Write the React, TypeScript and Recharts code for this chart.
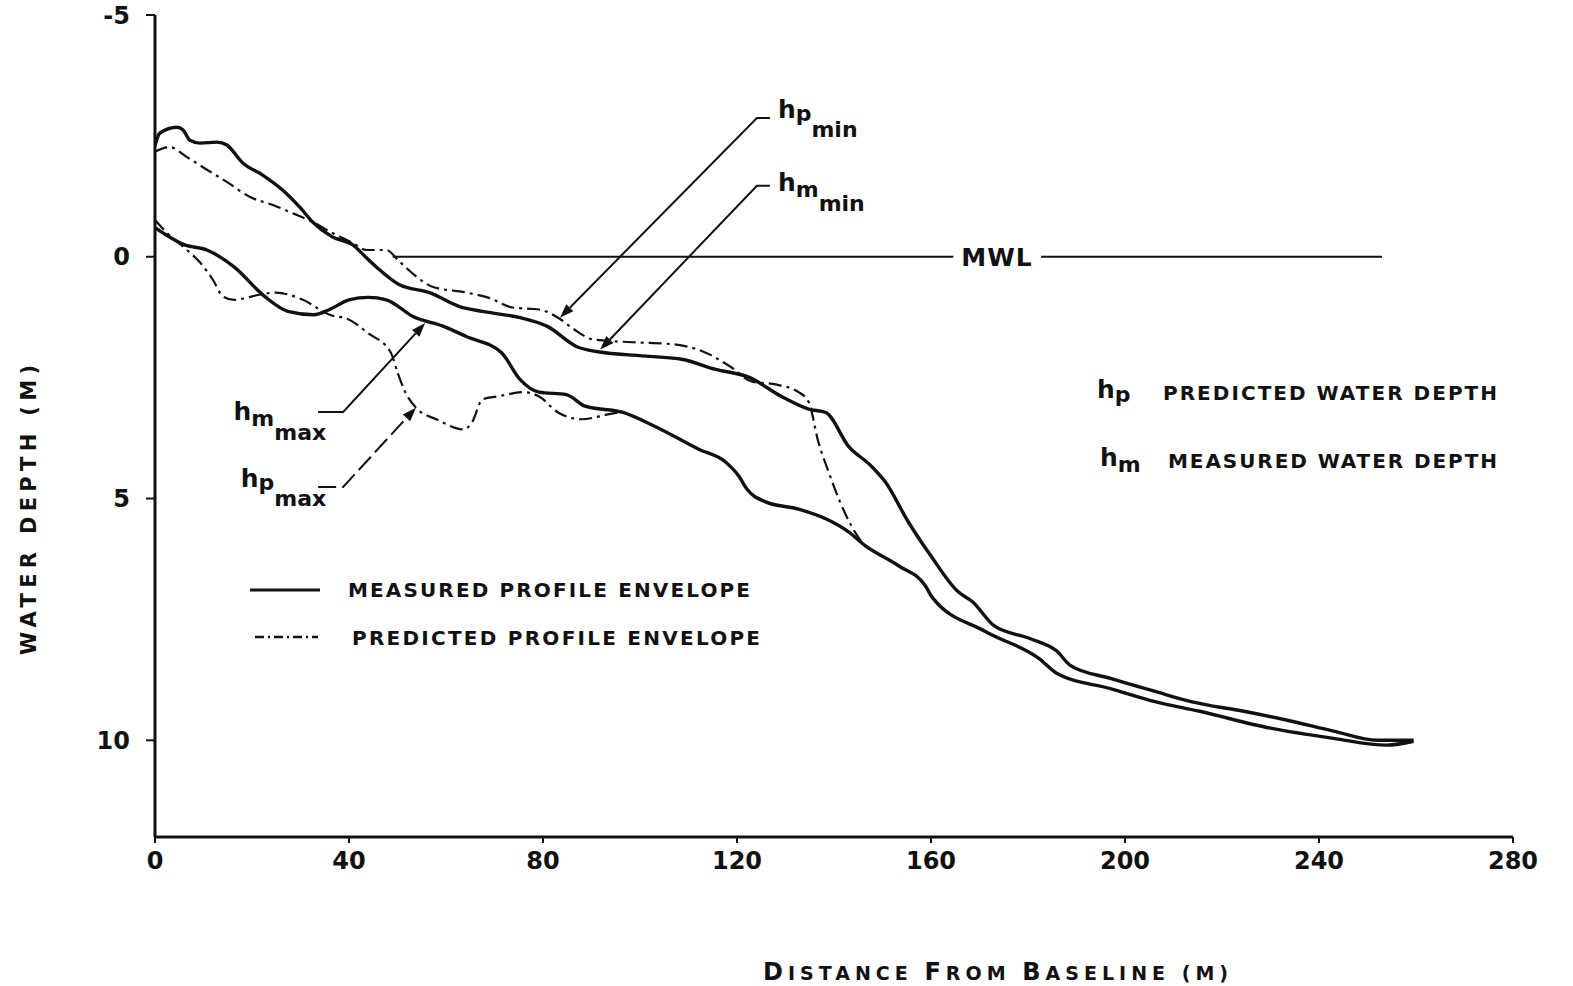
import React from 'react';
import { LineChart, Line, XAxis, YAxis, ReferenceLine, ReferenceDot } from 'recharts';

const W = 1573;
const H = 986;
const FONT = '"DejaVu Sans", Verdana, sans-serif';
const INK = '#111';

type Pt = { x: number; y: number };
const pts = (a: number[][]): Pt[] => a.map(([x, y]) => ({ x, y }));

const X_TICKS = [0, 40, 80, 120, 160, 200, 240, 280];
const Y_TICKS = [-5, 0, 5, 10];

// measured envelope, shallow side (hm min)
const hmMin = pts([
  [0, -2.3], [1, -2.56], [4.5, -2.68], [5.8, -2.62], [7.2, -2.41], [9.3, -2.35], [12.8, -2.37],
  [14.8, -2.31], [18.1, -1.94], [22.2, -1.69], [26.3, -1.38], [29.8, -1.03], [32.5, -0.72],
  [36.6, -0.41], [40.7, -0.25], [43.6, 0.02], [46.3, 0.27], [50.4, 0.58], [56.6, 0.74],
  [62.8, 1.03], [67.5, 1.13], [75.3, 1.26], [80.9, 1.44], [87, 1.86], [91, 1.96], [101.9, 2.06],
  [108.6, 2.12], [115.6, 2.33], [122.4, 2.49], [129.2, 2.89], [134.8, 3.15], [138.3, 3.22],
  [143, 3.92], [147.7, 4.33], [150.6, 4.66], [155.3, 5.48], [160, 6.19], [165.6, 6.93],
  [168.5, 7.13], [173, 7.63], [180.5, 7.9], [186, 8.16], [188.7, 8.45], [197, 8.72],
  [206.2, 8.99], [213.6, 9.2], [224.5, 9.4], [233.7, 9.59], [243, 9.81], [252, 10.0], [259.5, 10.0],
]);

// measured envelope, deep side (hm max)
const hmMax = pts([
  [0, -0.6], [6, -0.25], [10.7, -0.14], [16.3, 0.21], [22.6, 0.82], [27.4, 1.13], [32.7, 1.2],
  [36, 1.09], [40, 0.89], [44, 0.84], [47.7, 0.89], [53.3, 1.24], [59.5, 1.44], [64.2, 1.65], [71.4, 1.98],
  [75.3, 2.54], [79.2, 2.8], [84.8, 2.85], [88.7, 3.09], [96.5, 3.22], [102.9, 3.5], [112.1, 3.98],
  [117.7, 4.25], [120.4, 4.54], [122, 4.8], [125.9, 5.07], [132.7, 5.22], [138.3, 5.42],
  [143, 5.69], [146.5, 5.98], [153.3, 6.39], [158.8, 6.8], [160.3, 7.05], [171.2, 7.75],
  [182.3, 8.31], [186, 8.62], [197, 8.93], [206.2, 9.2], [215.4, 9.4], [230, 9.75],
  [243, 9.96], [254, 10.1], [259.5, 10.02],
]);

// predicted envelope, shallow side (hp min)
const hpMin = pts([
  [0, -2.17], [3, -2.27], [6.6, -2.06], [10.7, -1.8], [14.8, -1.55], [19.5, -1.24], [24.3, -1.07],
  [28.4, -0.9], [32.5, -0.72], [36.6, -0.49], [40.7, -0.29], [43.6, -0.14], [47.7, -0.14],
  [50.4, 0.1], [53.9, 0.41], [57.2, 0.62], [64.2, 0.74], [68.9, 0.85], [73.7, 1.05], [79.2, 1.09],
  [83.1, 1.26], [86.4, 1.5], [90.3, 1.71], [99, 1.77], [106.8, 1.81], [112, 1.92], [118.9, 2.29],
  [123, 2.58], [128, 2.64], [132.7, 2.8], [134.8, 3.01], [136.8, 3.84], [138.9, 4.45], [141, 5.01],
  [143.6, 5.57], [145.7, 5.9],
]);

// predicted envelope, deep side (hp max)
const hpMax = pts([
  [0, -0.76], [2.5, -0.49], [6.6, -0.14], [9.3, 0.12], [11.9, 0.47], [14, 0.82], [16.3, 0.89],
  [21.8, 0.78], [24.9, 0.74], [30.5, 0.89], [36, 1.2], [40, 1.3], [43.8, 1.57], [48.6, 1.98],
  [50, 2.39], [51.6, 2.8], [54.1, 3.15], [58, 3.36], [63.6, 3.57], [65.4, 3.42], [67.5, 2.95],
  [70.6, 2.89], [76.1, 2.8], [79.2, 2.89], [83.1, 3.22], [87.9, 3.36], [93.4, 3.26], [96.5, 3.2],
]);

// mean water level, broken where the MWL text sits
const MWL_LEFT: Pt[] = [{ x: 49, y: 0 }, { x: 164.6, y: 0 }];
const MWL_RIGHT: Pt[] = [{ x: 182.7, y: 0 }, { x: 253, y: 0 }];

type Note = {
  main: string;
  sub: string;
  subsub: string;
  elbow: Pt;
  tip: Pt;
  side: 'left' | 'right';
  dashed?: boolean;
  dy: number;
};

const NOTES: Note[] = [
  { main: 'h', sub: 'p', subsub: 'min', elbow: { x: 124.1, y: -2.87 }, tip: { x: 83.5, y: 1.26 }, side: 'right', dy: 0 },
  { main: 'h', sub: 'm', subsub: 'min', elbow: { x: 124.1, y: -1.47 }, tip: { x: 91.8, y: 1.92 }, side: 'right', dy: 5 },
  { main: 'h', sub: 'm', subsub: 'max', elbow: { x: 38.8, y: 3.21 }, tip: { x: 55.7, y: 1.37 }, side: 'left', dy: 8 },
  { main: 'h', sub: 'p', subsub: 'max', elbow: { x: 38.8, y: 4.76 }, tip: { x: 53.8, y: 3.12 }, side: 'left', dy: 0, dashed: true },
];

const DASH_DOT = '13 5 3 5';

function leader(n: Note) {
  return (p: any) => {
    const ex = p.x1, ey = p.y1, tx = p.x2, ty = p.y2;
    const ang = Math.atan2(ty - ey, tx - ex);
    const len = 14, half = 5;
    const bx = tx - len * Math.cos(ang), by = ty - len * Math.sin(ang);
    const nx = -Math.sin(ang) * half, ny = Math.cos(ang) * half;
    const stub = n.side === 'right' ? 13 : -25;
    const sx = ex + stub;
    return (
      <g>
        <path
          d={`M${sx},${ey} L${ex},${ey} L${bx},${by}`}
          fill="none"
          stroke={INK}
          strokeWidth={2}
          strokeDasharray={n.dashed ? '18 6' : undefined}
        />
        <polygon points={`${tx},${ty} ${bx + nx},${by + ny} ${bx - nx},${by - ny}`} fill={INK} />
        <text
          x={sx + 8}
          y={ey + n.dy}
          textAnchor={n.side === 'right' ? 'start' : 'end'}
          fontFamily={FONT}
          fontWeight={700}
          fill={INK}
        >
          <tspan fontSize={25}>{n.main}</tspan>
          <tspan fontSize={22} dy={n.sub === 'm' ? 6 : 3}>{n.sub}</tspan>
          <tspan fontSize={22} dy={n.sub === 'm' ? 14 : 16}>{n.subsub}</tspan>
        </text>
      </g>
    );
  };
}

const mwlShape = (p: any) => (
  <text x={p.cx} y={p.cy + 9} textAnchor="middle" fontFamily={FONT} fontWeight={700} fontSize={25} fill={INK} letterSpacing={1}>
    MWL
  </text>
);

const xTitle = () => (
  <text x={763} y={980} fontFamily={FONT} fontWeight={700} fill={INK} textLength={465} lengthAdjust="spacing">
    <tspan fontSize={24}>D</tspan><tspan fontSize={19}>ISTANCE </tspan>
    <tspan fontSize={24}>F</tspan><tspan fontSize={19}>ROM </tspan>
    <tspan fontSize={24}>B</tspan><tspan fontSize={19}>ASELINE (M)</tspan>
  </text>
);

const yTitle = () => (
  <text
    x={0}
    y={0}
    transform="translate(36,510) rotate(-90)"
    textAnchor="middle"
    fontFamily={FONT}
    fontWeight={700}
    fontSize={21}
    fill={INK}
    textLength={290}
    lengthAdjust="spacing"
  >
    WATER  DEPTH  (M)
  </text>
);

const tickFont = { fill: INK, fontSize: 24, fontWeight: 700, fontFamily: FONT };
const capStyle = { fontFamily: FONT, fontWeight: 700, fill: INK } as const;

function Overlay() {
  return (
    <svg width={W} height={H} style={{ position: 'absolute', left: 0, top: 0, pointerEvents: 'none' }}>
      {/* legend */}
      <line x1={250} y1={590} x2={320} y2={590} stroke={INK} strokeWidth={3} />
      <text x={348} y={597} fontSize={20} textLength={402} lengthAdjust="spacing" {...capStyle}>
        MEASURED PROFILE ENVELOPE
      </text>
      <line x1={255} y1={637} x2={318} y2={637} stroke={INK} strokeWidth={2.5} strokeDasharray="9 4 2 4" />
      <text x={352} y={645} fontSize={20} textLength={408} lengthAdjust="spacing" {...capStyle}>
        PREDICTED PROFILE ENVELOPE
      </text>
      {/* symbol notes */}
      <text x={1097} y={398} {...capStyle}>
        <tspan fontSize={25}>h</tspan><tspan fontSize={22} dy={4}>p</tspan>
      </text>
      <text x={1163} y={400} fontSize={20} textLength={334} lengthAdjust="spacing" {...capStyle}>
        PREDICTED WATER  DEPTH
      </text>
      <text x={1100} y={466} {...capStyle}>
        <tspan fontSize={25}>h</tspan><tspan fontSize={22} dy={6}>m</tspan>
      </text>
      <text x={1168} y={468} fontSize={20} textLength={329} lengthAdjust="spacing" {...capStyle}>
        MEASURED WATER  DEPTH
      </text>
    </svg>
  );
}

export default function App() {
  return (
    <div style={{ position: 'absolute', left: 0, top: 0, width: W, height: H, background: '#fff' }}>
      <LineChart width={W} height={H} margin={{ top: 15, right: 60, bottom: 0, left: 0 }}>
        <XAxis
          type="number"
          dataKey="x"
          domain={[0, 280]}
          ticks={X_TICKS}
          allowDataOverflow
          height={149}
          axisLine={{ stroke: INK, strokeWidth: 3 }}
          tickLine={{ stroke: INK, strokeWidth: 2 }}
          tickSize={6}
          tickMargin={9}
          tick={tickFont}
          label={{ content: xTitle }}
        />
        <YAxis
          type="number"
          dataKey="y"
          domain={[-5, 12]}
          reversed
          ticks={Y_TICKS}
          allowDataOverflow
          width={155}
          axisLine={{ stroke: INK, strokeWidth: 3 }}
          tickLine={{ stroke: INK, strokeWidth: 2 }}
          tickSize={9}
          tickMargin={16}
          tick={tickFont}
          label={{ content: yTitle }}
        />
        <ReferenceLine segment={MWL_LEFT} stroke={INK} strokeWidth={2} />
        <ReferenceLine segment={MWL_RIGHT} stroke={INK} strokeWidth={2} />
        <ReferenceDot x={173.6} y={0} r={0} shape={mwlShape} />

        <Line data={hmMin} dataKey="y" type="monotoneX" stroke={INK} strokeWidth={3.4} dot={false} isAnimationActive={false} />
        <Line data={hmMax} dataKey="y" type="monotoneX" stroke={INK} strokeWidth={3.4} dot={false} isAnimationActive={false} />
        <Line data={hpMin} dataKey="y" type="monotoneX" stroke={INK} strokeWidth={2.2} strokeDasharray={DASH_DOT} dot={false} isAnimationActive={false} />
        <Line data={hpMax} dataKey="y" type="monotoneX" stroke={INK} strokeWidth={2.2} strokeDasharray={DASH_DOT} dot={false} isAnimationActive={false} />

        {NOTES.map((n, i) => (
          <ReferenceLine key={i} segment={[n.elbow, n.tip]} ifOverflow="visible" shape={leader(n)} />
        ))}
      </LineChart>
      <Overlay />
    </div>
  );
}
